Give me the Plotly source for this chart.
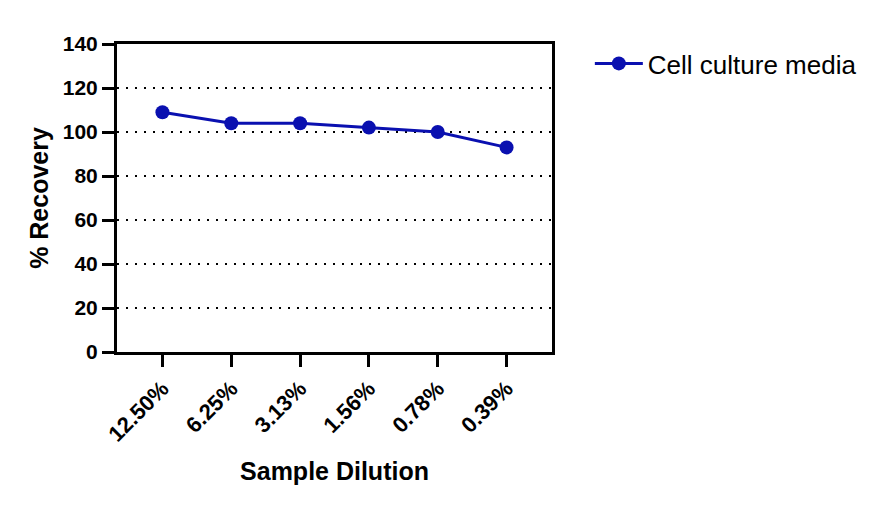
import plotly.graph_objects as go

# data
dilutions = ["12.50%", "6.25%", "3.13%", "1.56%", "0.78%", "0.39%"]
recovery = [109, 104, 104, 102, 100, 93]
series_name = "Cell culture media"

blue = "#0a10b0"

fig = go.Figure()

fig.add_trace(
    go.Scatter(
        x=dilutions,
        y=recovery,
        mode="lines+markers",
        name=series_name,
        line=dict(color=blue, width=3),
        marker=dict(color=blue, size=14),
    )
)

axis_font = dict(family="Liberation Sans", size=21, color="black", weight="bold")
title_font = dict(family="Liberation Sans", size=25, color="black", weight="bold")

fig.update_xaxes(
    range=[-0.66, 5.66],
    showline=True,
    linecolor="black",
    linewidth=3,
    mirror=True,
    ticks="outside",
    ticklen=12,
    tickwidth=3,
    tickcolor="black",
    tickangle=-45,
    tickfont=dict(family="Liberation Sans", size=22, color="black", weight="bold"),
    showgrid=False,
    title=dict(text="Sample Dilution", font=title_font, standoff=18),
)

fig.update_yaxes(
    range=[0, 140],
    tickvals=[0, 20, 40, 60, 80, 100, 120, 140],
    showline=True,
    linecolor="black",
    linewidth=3,
    mirror=True,
    ticks="outside",
    ticklen=12,
    tickwidth=3,
    tickcolor="black",
    tickfont=axis_font,
    showgrid=True,
    gridcolor="black",
    gridwidth=2.2,
    griddash="2px,7px",
    zeroline=False,
    title=dict(text="% Recovery", font=title_font, standoff=8),
)

# page body has an 8px margin, so the figure is shrunk by that much
fig.update_layout(
    width=871,
    height=499,
    margin=dict(l=109, r=327, t=36, b=155),
    plot_bgcolor="white",
    paper_bgcolor="white",
    showlegend=True,
    legend=dict(
        x=1.087,
        y=1.013,
        xanchor="left",
        yanchor="top",
        font=dict(family="Liberation Sans", size=26, color="black"),
        bgcolor="rgba(0,0,0,0)",
        itemwidth=48,
    ),
)

fig.write_html("out.html")
